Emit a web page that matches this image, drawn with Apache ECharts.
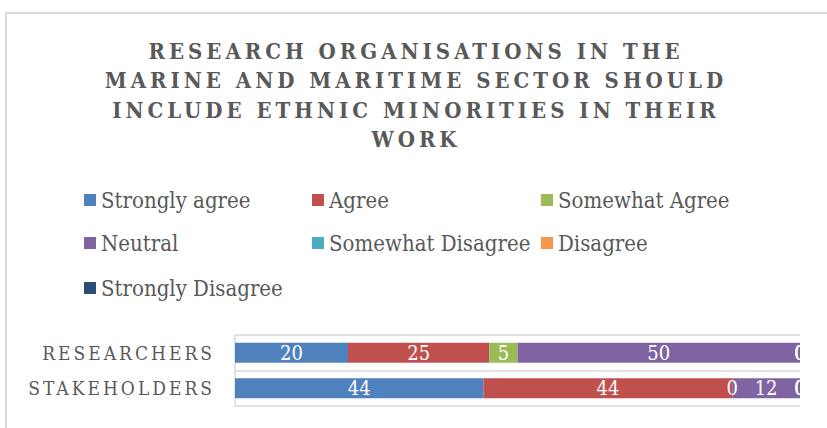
<!DOCTYPE html>
<html>
<head>
<meta charset="utf-8">
<script src="https://cdn.jsdelivr.net/npm/echarts@6/dist/echarts.min.js"></script>
<style>
  html, body { margin: 0; padding: 0; background: #fff; }
  #chart { width: 827px; height: 428px; }
</style>
</head>
<body>
<div id="chart"></div>
<script>
// Chart text
const titleLines = [
  'RESEARCH ORGANISATIONS IN THE',
  'MARINE AND MARITIME SECTOR SHOULD',
  'INCLUDE ETHNIC MINORITIES IN THEIR',
  'WORK'
];
const groups = ['RESEARCHERS', 'STAKEHOLDERS'];
const responses = ['Strongly agree', 'Agree', 'Somewhat Agree', 'Neutral',
                   'Somewhat Disagree', 'Disagree', 'Strongly Disagree'];

// Share of respondents (%) per group: [Researchers, Stakeholders]
const stronglyAgree    = [20, 44];
const agree            = [25, 44];
const somewhatAgree    = [5, 0];
const neutral          = [50, 12];
const somewhatDisagree = [0, 0];
const disagree         = [0, 0];
const stronglyDisagree = [0, 0];

const seriesValues = [stronglyAgree, agree, somewhatAgree, neutral,
                      somewhatDisagree, disagree, stronglyDisagree];
const palette = ['#4F81BD', '#C0504D', '#9BBB59', '#8064A2',
                 '#4BACC6', '#F79646', '#2C4D75'];

const SERIF = "'DejaVu Serif Condensed', 'DejaVu Serif', serif";
const GREY_TEXT = '#595959';
const RULE = '#d9d9d9';

// Legend item anchor points (icon left, row top)
const legendSlots = [
  [84, 188], [312, 188], [541, 188],
  [84, 231], [312, 231], [541, 231],
  [84, 276]
];

const chart = echarts.init(document.getElementById('chart'), null, { renderer: 'svg' });

const option = {
  animation: false,
  backgroundColor: '#fff',
  title: {
    text: titleLines.join('\n'),
    left: 416,
    top: 36,
    textAlign: 'center',
    padding: 0,
    textStyle: {
      color: GREY_TEXT,
      fontFamily: SERIF,
      fontWeight: 'bold',
      fontSize: 22,
      lineHeight: 29.5
    }
  },
  legend: responses.map((name, i) => ({
    data: [name],
    left: legendSlots[i][0],
    top: legendSlots[i][1],
    padding: 0,
    itemWidth: 12,
    itemHeight: 12,
    selectedMode: false,
    icon: 'rect',
    textStyle: { color: GREY_TEXT, fontFamily: SERIF, fontSize: 22, lineHeight: 24 }
  })),
  grid: { left: 235, right: 27, top: 335, height: 71, containLabel: false },
  xAxis: { type: 'value', min: 0, max: 100, show: false },
  yAxis: {
    type: 'category',
    inverse: true,
    data: groups,
    axisLine: { show: true, lineStyle: { color: RULE, width: 1.5 } },
    axisTick: { show: false },
    splitLine: { show: true, lineStyle: { color: RULE, width: 1.5 } },
    axisLabel: { color: GREY_TEXT, fontFamily: SERIF, fontSize: 19, margin: 20 }
  },
  series: responses.map((name, i) => ({
    name,
    type: 'bar',
    stack: 'total',
    data: seriesValues[i],
    barWidth: 20,
    itemStyle: { color: palette[i] },
    label: {
      show: true,
      position: 'inside',
      color: '#fff',
      fontFamily: SERIF,
      fontSize: 20
    },
    emphasis: { disabled: true }
  })),
  graphic: [
    {
      type: 'polyline',
      z: 100,
      shape: { points: [[6, 428], [6, 13], [827, 13]] },
      style: { stroke: RULE, lineWidth: 2, fill: null }
    },
    {
      // outer frame edge: anything beyond it is not shown
      type: 'rect',
      z: 100,
      shape: { x: 801, y: 330, width: 26, height: 85 },
      style: { fill: '#fff' }
    }
  ]
};

chart.setOption(option);

// Widen the tracking of the title and group names
function trackLetters() {
  document.querySelectorAll('#chart svg text').forEach(t => {
    const s = t.textContent;
    if (titleLines.includes(s)) t.setAttribute('letter-spacing', '4');
    else if (groups.includes(s)) t.setAttribute('letter-spacing', '3');
  });
}
chart.on('finished', trackLetters);
trackLetters();
</script>
</body>
</html>
